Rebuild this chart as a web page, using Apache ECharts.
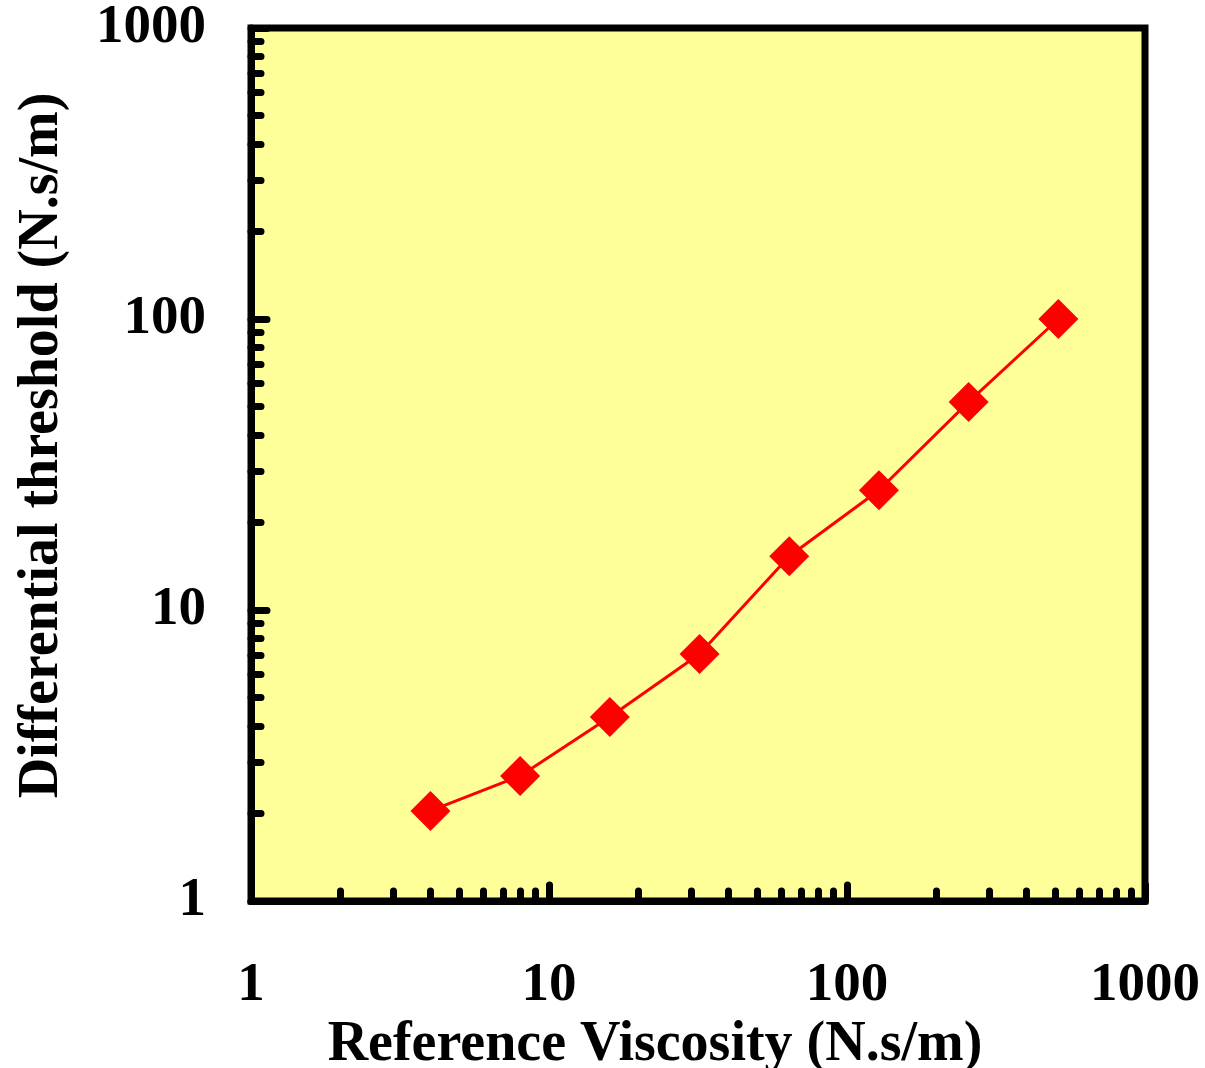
<!DOCTYPE html>
<html>
<head>
<meta charset="utf-8">
<script src="https://cdn.jsdelivr.net/npm/echarts@6/dist/echarts.min.js"></script>
<style>html,body{margin:0;padding:0;background:#fff;}#c{width:1205px;height:1068px;}</style>
</head>
<body>
<div id="c"></div>
<script>
const viscosity = [4, 8, 16, 32, 64, 128, 256, 512];
const threshold = [2.04, 2.69, 4.29, 7.06, 15.3, 25.8, 51.9, 100];
const majorTicks = [1, 10, 100, 1000];
const minorTicks = [2,3,4,5,6,7,8,9,20,30,40,50,60,70,80,90,200,300,400,500,600,700,800,900];
const xTitle = 'Reference Viscosity (N.s/m)';
const yTitle = 'Differential threshold (N.s/m)';

const FONT = '"Liberation Serif", "Times New Roman", serif';
const chart = echarts.init(document.getElementById('c'));

function baseAxis(extra) {
  return Object.assign({
    type: 'log', logBase: 10, min: 1, max: 1000,
    splitLine: {show: false},
    minorTick: {show: false},
    minorSplitLine: {show: false}
  }, extra);
}

const labelStyle = {fontFamily: FONT, fontWeight: 'bold', fontSize: 55, color: '#000'};
const titleStyle = {fontFamily: FONT, fontWeight: 'bold', fontSize: 56, color: '#000'};

chart.setOption({
  animation: false,
  backgroundColor: '#fff',
  grid: {left: 251, right: 60, top: 28, bottom: 167, show: true,
         outerBoundsMode: 'none',
         backgroundColor: '#FFFF99', borderColor: '#000', borderWidth: 7, containLabel: false},
  xAxis: [
    baseAxis({
      position: 'bottom',
      name: xTitle, nameLocation: 'middle', nameGap: 97,
      nameTextStyle: Object.assign({}, titleStyle, {padding: [0, 86, 0, 0]}),
      axisLine: {show: true, lineStyle: {color: '#000', width: 7}},
      axisTick: {show: true, inside: true, length: 16, customValues: majorTicks,
                 lineStyle: {color: '#000', width: 7, cap: 'round'}},
      axisLabel: Object.assign({}, labelStyle, {margin: 57, customValues: majorTicks,
                 formatter: v => String(Math.round(v))})
    }),
    baseAxis({
      position: 'bottom',
      axisLine: {show: false},
      axisTick: {show: true, inside: true, length: 10, customValues: minorTicks,
                 lineStyle: {color: '#000', width: 7, cap: 'round'}},
      axisLabel: {show: false}
    })
  ],
  yAxis: [
    baseAxis({
      position: 'left',
      name: yTitle, nameLocation: 'middle', nameGap: 180, nameRotate: 90,
      nameTextStyle: Object.assign({}, titleStyle, {padding: [0, 0, 0, 38]}),
      axisLine: {show: true, lineStyle: {color: '#000', width: 7}},
      axisTick: {show: true, inside: true, length: 16, customValues: majorTicks,
                 lineStyle: {color: '#000', width: 7, cap: 'round'}},
      axisLabel: Object.assign({}, labelStyle, {margin: 45, padding: [14, 0, 0, 0], customValues: majorTicks,
                 formatter: v => String(Math.round(v))})
    }),
    baseAxis({
      position: 'left',
      axisLine: {show: false},
      axisTick: {show: true, inside: true, length: 10, customValues: minorTicks,
                 lineStyle: {color: '#000', width: 7, cap: 'round'}},
      axisLabel: {show: false}
    })
  ],
  series: [{
    type: 'line',
    xAxisIndex: 0, yAxisIndex: 0,
    data: viscosity.map((v, i) => [v, threshold[i]]),
    symbol: 'diamond', symbolSize: 40,
    lineStyle: {color: '#FF0000', width: 3},
    itemStyle: {color: '#FF0000'}
  }]
});
</script>
</body>
</html>
